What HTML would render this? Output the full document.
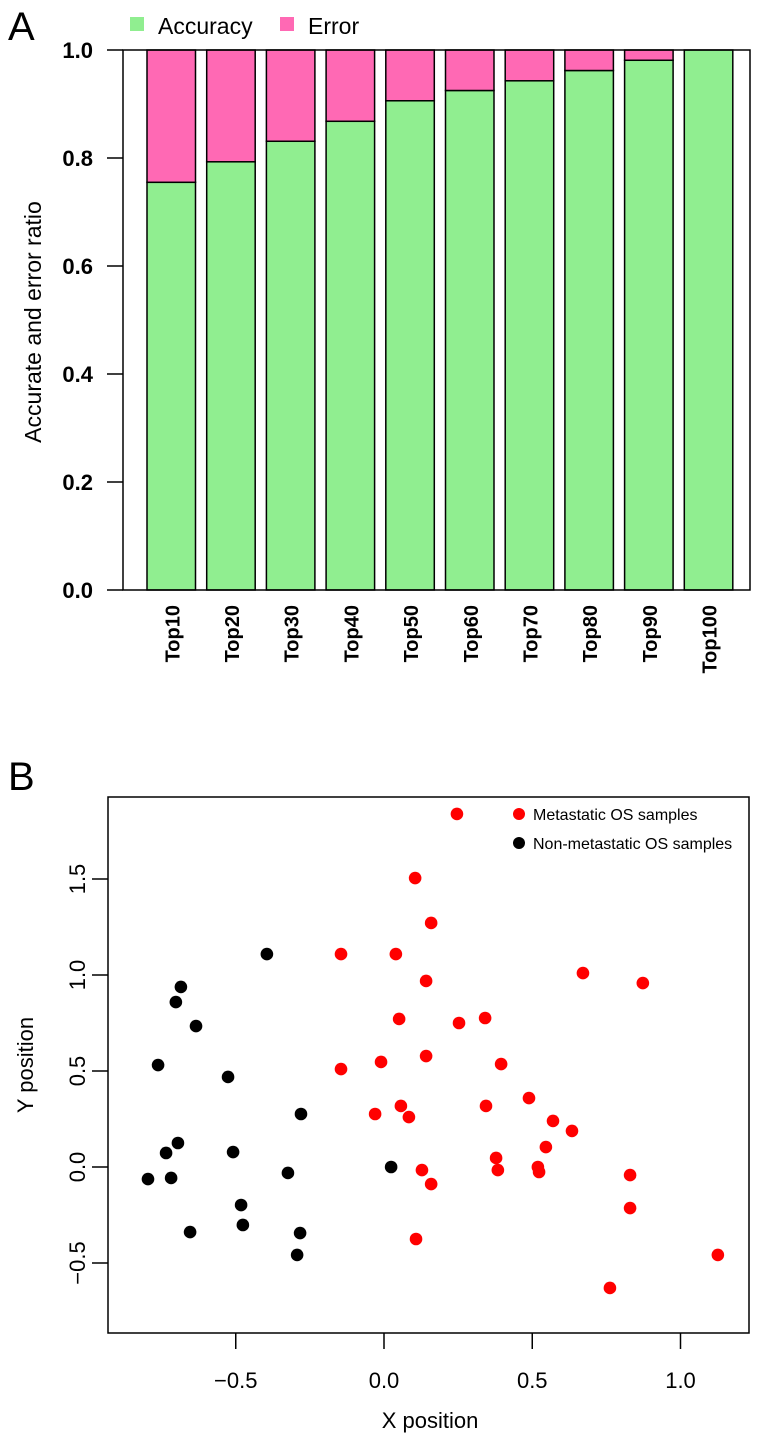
<!DOCTYPE html>
<html><head><meta charset="utf-8"><style>
body{margin:0;background:#fff;}
svg text{font-family:"Liberation Sans",Arial,sans-serif;}
</style></head><body>
<svg id="chart" width="765" height="1445" xmlns="http://www.w3.org/2000/svg">
<text x="8" y="40" font-size="40">A</text>
<g id="legA">
<rect x="130" y="17" width="14" height="14" fill="#90EE90"/>
<text x="158" y="34" font-size="23">Accuracy</text>
<rect x="280" y="17" width="14" height="14" fill="#FF69B4"/>
<text x="308" y="34" font-size="23">Error</text>
</g>
<g id="barA"></g>
<text transform="translate(41,322) rotate(-90)" text-anchor="middle" font-size="23">Accurate and error ratio</text>
<text x="8" y="790" font-size="40">B</text>
<g id="scat"></g>
<text x="430" y="1428" text-anchor="middle" font-size="22">X position</text>
<text transform="translate(33,1065) rotate(-90)" text-anchor="middle" font-size="22">Y position</text>
<g>
<circle cx="519" cy="814" r="6" fill="#f00"/>
<text x="533" y="820" font-size="16">Metastatic OS samples</text>
<circle cx="519" cy="843" r="6" fill="#000"/>
<text x="533" y="849" font-size="16">Non-metastatic OS samples</text>
</g>
</svg>
<script>
const categories=["Top10","Top20","Top30","Top40","Top50","Top60","Top70","Top80","Top90","Top100"];
const accuracy=[0.755,0.793,0.831,0.868,0.906,0.925,0.943,0.962,0.981,1.0];
const yTicksA=[0,0.2,0.4,0.6,0.8,1.0];
const redX=[0.246,0.105,0.159,-0.145,0.04,0.142,0.671,0.873,0.051,0.253,0.341,-0.145,-0.01,0.142,0.395,-0.03,0.057,0.084,0.344,0.489,0.57,0.634,0.546,0.378,0.384,0.519,0.523,0.128,0.159,0.83,0.83,0.108,0.762,1.126];
const redY=[1.839,1.505,1.271,1.109,1.109,0.969,1.01,0.958,0.771,0.75,0.776,0.51,0.547,0.578,0.536,0.276,0.318,0.26,0.318,0.359,0.24,0.188,0.104,0.047,-0.016,0.0,-0.026,-0.016,-0.089,-0.042,-0.214,-0.375,-0.63,-0.458];
const blackX=[-0.395,-0.685,-0.702,-0.634,-0.762,-0.526,-0.28,-0.695,-0.735,-0.509,-0.796,-0.718,-0.324,0.024,-0.482,-0.476,-0.654,-0.283,-0.293];
const blackY=[1.109,0.938,0.859,0.734,0.531,0.469,0.276,0.125,0.073,0.078,-0.063,-0.057,-0.031,0.0,-0.198,-0.302,-0.339,-0.344,-0.458];
const xTicksB=[-0.5,0,0.5,1.0];
const yTicksB=[-0.5,0,0.5,1.0,1.5];

const NS="http://www.w3.org/2000/svg";
function mk(tag,attrs,parent,txt){const e=document.createElementNS(NS,tag);for(const k in attrs)e.setAttribute(k,attrs[k]);if(txt!==undefined)e.textContent=txt;parent.appendChild(e);return e;}
// Panel A
const gA=document.getElementById('barA');
const yA=v=>590-v*540;
const xA=i=>147+i*59.7;
const bw=48.5;
categories.forEach((c,i)=>{
  let r=mk('rect',{x:xA(i),y:yA(accuracy[i]),width:bw,height:yA(0)-yA(accuracy[i]),fill:'#90EE90',stroke:'#000','stroke-width':1.5},gA);
  
  
  if(accuracy[i]<1){
    let e=mk('rect',{x:xA(i),y:yA(1),width:bw,height:yA(accuracy[i])-yA(1),fill:'#FF69B4',stroke:'#000','stroke-width':1.5},gA);
    
    
  }
  let t=mk('text',{transform:`translate(${xA(i)+bw/2+8},605) rotate(-90)`,'text-anchor':'end','font-size':20,'font-weight':'bold'},gA,c);
  
  
});
let boxA=mk('rect',{x:123,y:yA(1),width:627,height:yA(0)-yA(1),fill:'none',stroke:'#000','stroke-width':1.5},gA);


yTicksA.forEach(v=>{
  mk('line',{x1:107,x2:123,y1:yA(v),y2:yA(v),stroke:'#000','stroke-width':1.5},gA);
  let t=mk('text',{x:93,y:yA(v)+8,'text-anchor':'end','font-size':22,'font-weight':'bold'},gA,v.toFixed(1));
  
  
});
// Panel B
const gB=document.getElementById('scat');
const xB=v=>384+v*296.5;
const yB=v=>1167-v*192;
let boxB=mk('rect',{x:108,y:797,width:641,height:536,fill:'none',stroke:'#000','stroke-width':1.5},gB);


xTicksB.forEach(v=>{
  mk('line',{x1:xB(v),x2:xB(v),y1:1333,y2:1349,stroke:'#000','stroke-width':1.5},gB);
  let t=mk('text',{x:xB(v),y:1388,'text-anchor':'middle','font-size':22},gB,v.toFixed(1).replace('-','\u2212'));
  
  
});
yTicksB.forEach(v=>{
  mk('line',{x1:92,x2:108,y1:yB(v),y2:yB(v),stroke:'#000','stroke-width':1.5},gB);
  let t=mk('text',{transform:`translate(85,${yB(v)}) rotate(-90)`,'text-anchor':'middle','font-size':22},gB,v.toFixed(1).replace('-','\u2212'));
  
  
});
redX.forEach((x,i)=>{
  let c=mk('circle',{cx:xB(x),cy:yB(redY[i]),r:6.3,fill:'#f00'},gB);
  
  
});
blackX.forEach((x,i)=>{
  let c=mk('circle',{cx:xB(x),cy:yB(blackY[i]),r:6.3,fill:'#000'},gB);
  
  
});
</script>
</body></html>
